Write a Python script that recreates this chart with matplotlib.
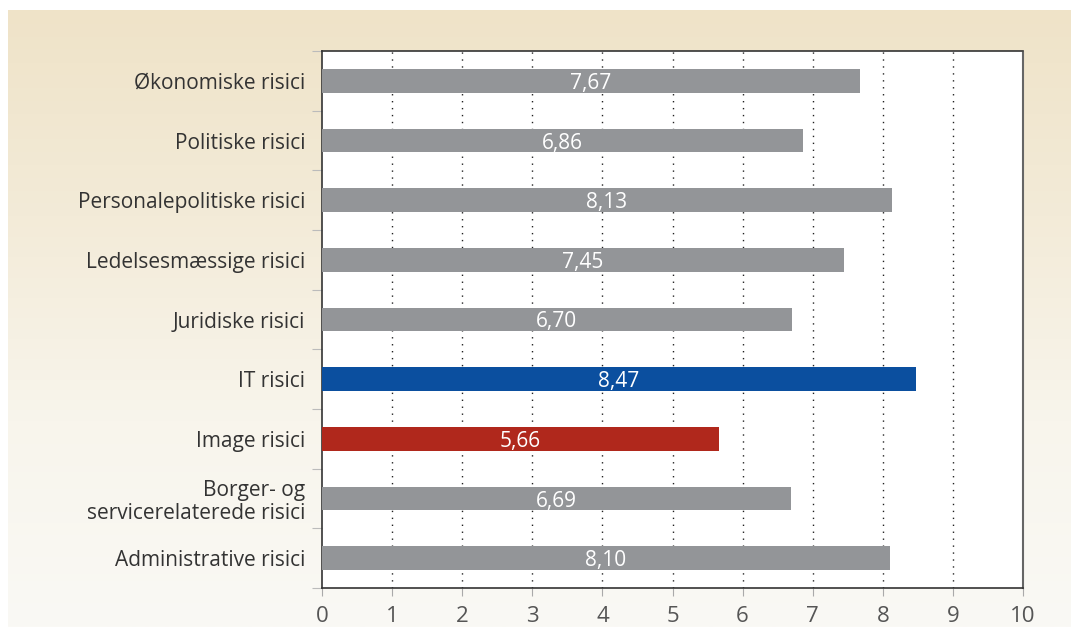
import matplotlib
matplotlib.use("Agg")
import matplotlib.pyplot as plt
import numpy as np
from matplotlib.colors import LinearSegmentedColormap

categories = ["Økonomiske risici", "Politiske risici", "Personalepolitiske risici",
              "Ledelsesmæssige risici", "Juridiske risici", "IT risici", "Image risici",
              "Borger- og\nservicerelaterede risici", "Administrative risici"]
values = [7.67, 6.86, 8.13, 7.45, 6.70, 8.47, 5.66, 6.69, 8.10]
value_labels = ["7,67", "6,86", "8,13", "7,45", "6,70", "8,47", "5,66", "6,69", "8,10"]
bar_colors = ["#939598", "#939598", "#939598", "#939598", "#939598",
              "#0b4f9f", "#b0281c", "#939598", "#939598"]
xticks = list(range(0, 11))

plt.rcParams['font.family'] = ['Open Sans', 'DejaVu Sans']
txt = "#333333"

fig = plt.figure(figsize=(10.71, 6.27), dpi=100)
fig.patch.set_facecolor("white")

# gradient background panel
bg = fig.add_axes([8/1071, 0, 1 - 8/1071, 1 - 10/627])
cmap = LinearSegmentedColormap.from_list("bg", ["#efe3c8", "#f3ebd8", "#f8f5ec", "#faf9f5"], N=256)
grad = np.linspace(0, 1, 256).reshape(-1, 1)
bg.imshow(grad, aspect="auto", cmap=cmap, extent=[0, 1, 0, 1])
bg.set_axis_off()

ax = fig.add_axes([322/1071, 1 - 588/627, (1023 - 322)/1071, (588 - 51)/627])
ax.set_facecolor("white")
y = np.arange(len(categories))
ax.barh(y, values, height=0.40, color=bar_colors, zorder=3)
for yi, v, lab in zip(y, values, value_labels):
    ax.text(v / 2, yi, lab, color="white", ha="center", va="center_baseline", fontsize=15, zorder=4)

ax.set_xlim(0, 10)
ax.set_ylim(len(categories) - 0.5, -0.5)
ax.set_xticks(xticks)
ax.set_xticklabels([str(t) for t in xticks], fontsize=16, color="#555555")
ax.tick_params(axis="x", length=6, width=0.8, color="#aaaaaa", pad=7)
ax.set_yticks(y)
ax.set_yticklabels(categories, fontsize=15, color=txt, linespacing=1.1)
ax.tick_params(axis="y", which="major", length=0, pad=12)
ax.set_yticks(np.arange(-0.5, len(categories), 1), minor=True)
ax.tick_params(axis="y", which="minor", length=7, width=0.8, color="#bbbbbb")

for xv in range(1, 10):
    ax.axvline(xv, color="#222222", linestyle=(0, (1, 4)), linewidth=1.0, zorder=1)

for s in ["left", "bottom", "top"]:
    ax.spines[s].set_color("#333333")
    ax.spines[s].set_linewidth(1.2)
ax.spines["right"].set_color("#666666")
ax.spines["right"].set_linestyle((0, (2, 1)))
ax.spines["right"].set_linewidth(1.5)

fig.savefig("out.png", dpi=100, facecolor=fig.get_facecolor())
